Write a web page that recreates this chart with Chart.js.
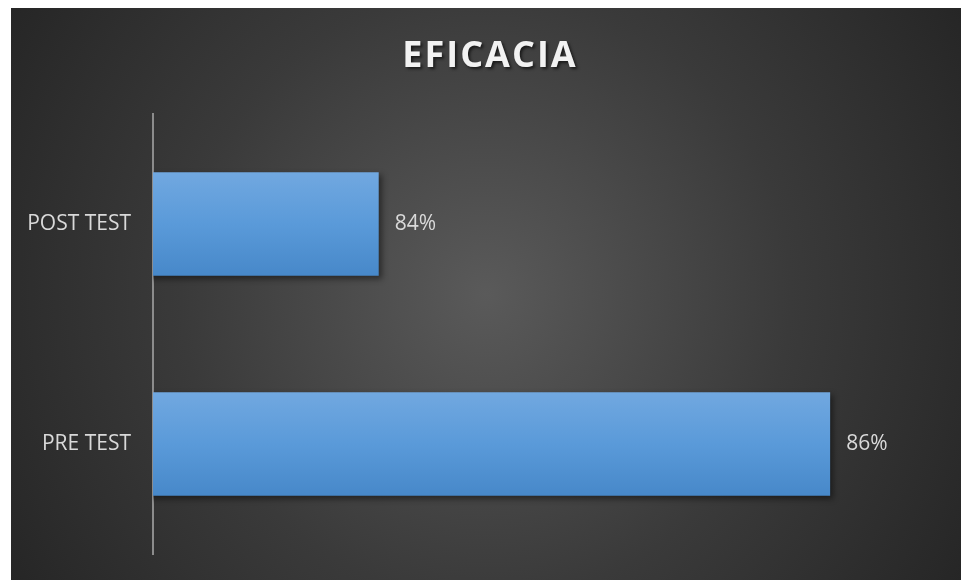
<!DOCTYPE html>
<html>
<head>
<meta charset="utf-8">
<script src="https://cdn.jsdelivr.net/npm/chart.js@4/dist/chart.umd.min.js"></script>
<style>
  body { margin: 0; background: #fff; }
  #box {
    position: absolute; left: 11px; top: 8px; width: 950px; height: 572px;
    background: radial-gradient(circle farthest-corner at 50% 50%, #5a5a5a 0%, #3a3a3a 55%, #262626 100%);
  }
  canvas { display: block; }
</style>
</head>
<body>
<div id="box"><canvas id="chart" width="950" height="572"></canvas></div>
<script>
var titleText = 'EFICACIA';
var categories = ['POST TEST', 'PRE TEST'];
var values = [84, 86];
var axisMin = 83;
var axisMax = 86.5;

// title drawn by hand so it can get letter spacing and a shadow
var titlePlugin = {
    id: 'titleText',
    afterDraw: function (chart) {
        var ctx = chart.ctx;
        ctx.save();
        ctx.font = 'bold 36px "Open Sans"';
        ctx.letterSpacing = '2px';
        ctx.fillStyle = '#f2f2f2';
        ctx.textAlign = 'center';
        ctx.textBaseline = 'middle';
        ctx.shadowColor = 'rgba(0,0,0,0.6)';
        ctx.shadowOffsetX = 2;
        ctx.shadowOffsetY = 2;
        ctx.shadowBlur = 3;
        ctx.fillText(titleText, chart.width / 2 + 4, 49);
        ctx.restore();
    }
};

var labelPlugin = {
    id: 'valueLabels',
    beforeDatasetsDraw: function (chart) {
        var ctx = chart.ctx;
        ctx.save();
        ctx.shadowColor = 'rgba(0,0,0,0.45)';
        ctx.shadowOffsetX = 3;
        ctx.shadowOffsetY = 3;
        ctx.shadowBlur = 6;
    },
    afterDatasetsDraw: function (chart) {
        var ctx = chart.ctx;
        ctx.restore();
        ctx.save();
        ctx.font = '21px "Open Sans"';
        ctx.fillStyle = '#d9d9d9';
        ctx.textBaseline = 'middle';
        chart.getDatasetMeta(0).data.forEach(function (bar, i) {
            ctx.fillText(values[i] + '%', bar.x + 16, bar.y);
        });
        ctx.restore();
    }
};

function barFill(c) {
    var chart = c.chart;
    if (!chart.chartArea) return '#5b9bd5';
    var y = chart.scales.y.getPixelForValue(c.dataIndex);
    var g = chart.ctx.createLinearGradient(0, y - 52, 0, y + 52);
    g.addColorStop(0, '#71a8e0');
    g.addColorStop(0.5, '#5a9ad9');
    g.addColorStop(1, '#4788c9');
    return g;
}

var ctx = document.getElementById('chart').getContext('2d');
var chart = new Chart(ctx, {
    type: 'bar',
    data: {
        labels: categories,
        datasets: [{
            data: values,
            backgroundColor: barFill,
            borderWidth: 0,
            categoryPercentage: 1,
            barPercentage: 0.47
        }]
    },
    options: {
        indexAxis: 'y',
        responsive: false,
        animation: false,
        layout: { padding: { top: 106, bottom: 26, right: 18, left: 0 } },
        plugins: { legend: { display: false }, tooltip: { enabled: false } },
        scales: {
            x: { display: false, min: axisMin, max: axisMax },
            y: {
                afterFit: function (scale) {
                    scale.width = 142;
                    scale.paddingTop = 0;
                    scale.paddingBottom = 0;
                },
                grid: { display: false, drawTicks: false },
                border: { display: true, color: '#8c8c8c', width: 2 },
                ticks: { color: '#d9d9d9', padding: 22, font: { family: 'Open Sans', size: 21 } }
            }
        }
    },
    plugins: [titlePlugin, labelPlugin]
});
</script>
</body>
</html>
